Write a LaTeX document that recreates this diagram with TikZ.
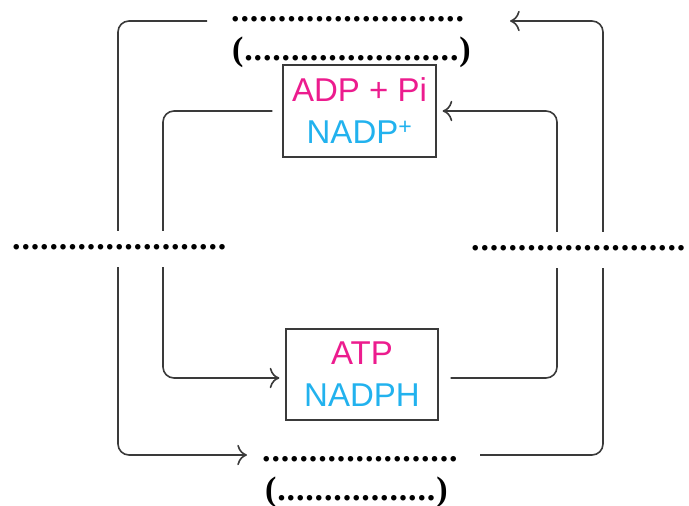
\documentclass[tikz,border=0pt]{standalone}
\usepackage{fontspec}
\setmainfont{Liberation Sans}
\newfontfamily\dotf[LetterSpace=2.5]{Liberation Serif}
\usetikzlibrary{arrows.meta}
\definecolor{pinkc}{HTML}{EC1C8E}
\definecolor{cyanc}{HTML}{22B2EE}
\definecolor{linec}{HTML}{3A3A3A}
\tikzset{
  conn/.style={draw=linec, line width=1.6pt, rounded corners=11pt},
  arr/.style={-{Computer Modern Rightarrow[scale=1.9]}},
  blank/.style={inner sep=0pt, anchor=base west, text height=12pt, text depth=6pt,
    font=\dotf\bfseries\fontsize{34}{40}\selectfont},
  sidedots/.style={blank, fill=white, text height=18pt, text depth=18pt},
  molbox/.style={draw=linec, line width=1.2pt, inner sep=0pt, align=center,
    font=\fontsize{33}{42}\selectfont}
}
\begin{document}
\begin{tikzpicture}[x=1pt,y=-1pt]
\useasboundingbox (0,0) rectangle (689,506);
% molecule boxes
\node[molbox, minimum width=153pt, minimum height=92pt] (tb) at (359.5,111)
  {\textcolor{pinkc}{ADP + Pi}\\\textcolor{cyanc}{NADP\textsuperscript{+}}};
\node[molbox, minimum width=152pt, minimum height=91pt] (bb) at (362,374.5)
  {\textcolor{pinkc}{ATP}\\\textcolor{cyanc}{NADPH}};
% blank labels
\node[blank] (t1) at (231,21) {.........................};
\node[blank] (t2) at (232,60) {(.......................)};
\node[blank] (b1) at (262,461) {.....................};
\node[blank] (b2) at (265,500) {(.................)};
% outer loop coordinates
\coordinate (oLs) at (207,21);
\coordinate (oLa) at (118,21);
\coordinate (oLb) at (118,455);
\coordinate (oLe) at (247,455);
\coordinate (oRs) at (480,455);
\coordinate (oRa) at (603,455);
\coordinate (oRb) at (603,21);
\coordinate (oRe) at (510,21);
% inner loop
\coordinate (iLa) at (163,111);
\coordinate (iLb) at (163,378);
\coordinate (iRa) at (557,378);
\coordinate (iRb) at (557,111);
\draw[conn, arr] (oLs) -- (oLa) -- (oLb) -- (oLe);
\draw[conn, arr] (oRs) -- (oRa) -- (oRb) -- (oRe);
\draw[conn, arr, shorten <=10pt, shorten >=6pt] (tb.west) -- (iLa) -- (iLb) -- ([yshift=-3.5pt]bb.west);
\draw[conn, arr, shorten <=12pt, shorten >=6pt] ([yshift=-3.5pt]bb.east) -- (iRa) -- (iRb) -- (tb.east);
% side blanks (cover the loops)
\node[sidedots] (lft) at (12,249) {.......................};
\node[sidedots] (rgt) at (471,250) {.......................};
\end{tikzpicture}
\end{document}
